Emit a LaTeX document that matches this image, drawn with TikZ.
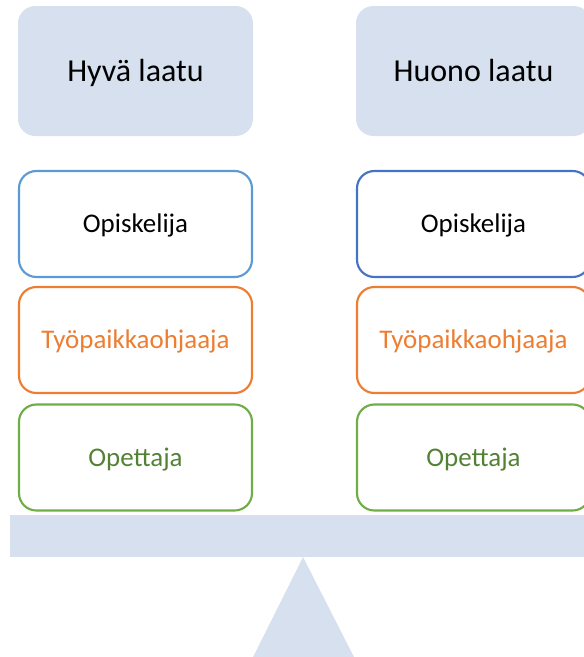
\documentclass[tikz,border=0pt]{standalone}
\usepackage{fontspec}
\setmainfont{Carlito}
\usetikzlibrary{positioning}

\definecolor{scalebg}{HTML}{D6E0EF}
\definecolor{blueA}{HTML}{5B9BD5}
\definecolor{blueB}{HTML}{4472C4}
\definecolor{orangeR}{HTML}{ED7D31}
\definecolor{greenR}{HTML}{70AD47}
\definecolor{greenT}{HTML}{548235}

\tikzset{
    head/.style={fill=scalebg, rounded corners=13pt, minimum width=176.25pt,
        minimum height=97.5pt, outer sep=0pt, text height=15.5pt, text depth=0pt,
        font=\fontsize{24}{29}\selectfont},
    role/.style={draw, line width=1.6pt, rounded corners=13pt, fill=white,
        minimum width=174.75pt, minimum height=79.5pt, outer sep=0pt,
        text height=13pt, text depth=0pt, font=\fontsize{20.2}{24}\selectfont},
}

\begin{document}
\begin{tikzpicture}[x=0.75pt, y=-0.75pt]
    \useasboundingbox (0,0) rectangle (584,657);
    % the two pans
    \node[head] (good) at (135.5,71) {Hyvä laatu};
    \node[head] (bad) at (473.5,71) {Huono laatu};
    % left stack
    \node[role, draw=blueA] (stuL) at (135.5,224) {Opiskelija};
    \node[role, draw=orangeR, text=orangeR] (supL) at (135.5,340) {Työpaikkaohjaaja};
    \node[role, draw=greenR, text=greenT] (teaL) at (135.5,457.5) {Opettaja};
    % right stack
    \node[role, draw=blueB] (stuR) at (473.5,224) {Opiskelija};
    \node[role, draw=orangeR, text=orangeR] (supR) at (473.5,340) {Työpaikkaohjaaja};
    \node[role, draw=greenR, text=greenT] (teaR) at (473.5,457.5) {Opettaja};
    % beam and pivot
    \fill[scalebg] (10,515) rectangle (600,557);
    \fill[scalebg] (303,557) -- (354,657) -- (253,657) -- cycle;
\end{tikzpicture}
\end{document}
